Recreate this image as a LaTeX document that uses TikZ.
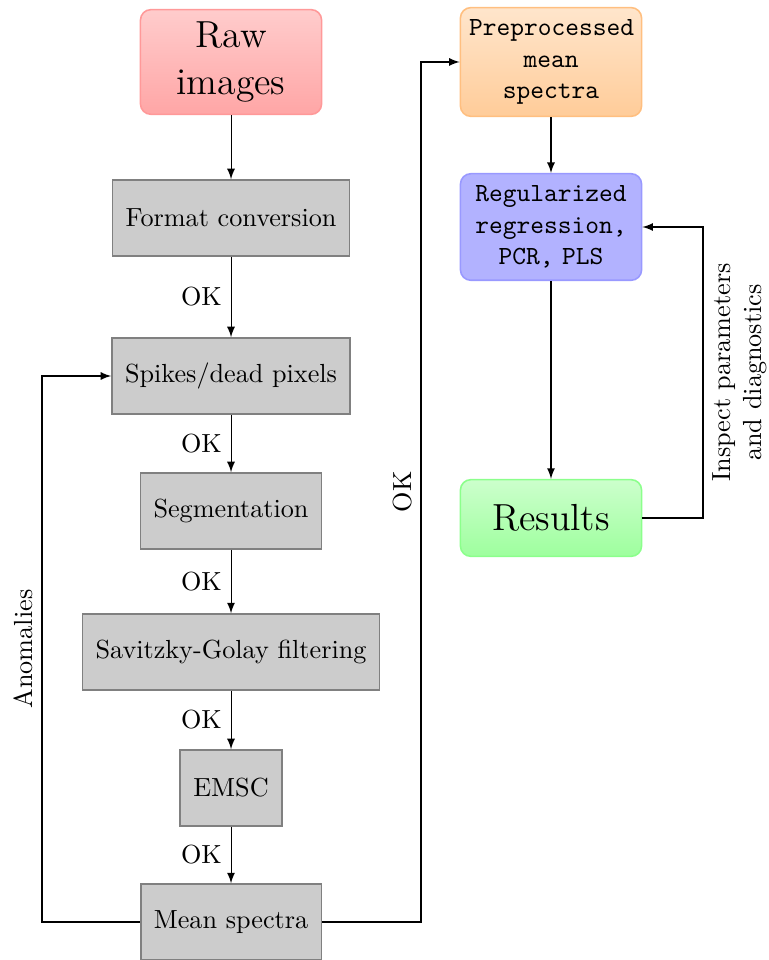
\documentclass[tikz,border=0pt]{standalone}
\usepackage{tikz}
\begin{document}
\begin{tikzpicture}[
  procbox/.style={draw=black!50,fill=black!20,semithick,rectangle,inner xsep=5pt,minimum height=1.02cm},
  endbox/.style={semithick,rounded corners,align=center,text width=2.2cm,inner xsep=3.3pt,inner ysep=4.6pt},
  flow/.style={->,>=latex}
]
\useasboundingbox (0,0) rectangle (10.31,-12.886);
\node[endbox,draw=red!40,top color=red!20,bottom color=red!35,font=\Large] (raw) at (3.101,-0.832) {Raw\\images};
\node[procbox] (conv) at (3.101,-2.926) {Format conversion};
\node[procbox] (spikes) at (3.101,-5.047) {Spikes/dead pixels};
\node[procbox] (seg) at (3.101,-6.859) {Segmentation};
\node[procbox] (sgf) at (3.101,-8.752) {Savitzky-Golay filtering};
\node[procbox] (emsc) at (3.101,-10.577) {EMSC};
\node[procbox] (mean) at (3.101,-12.376) {Mean spectra};
\node[endbox,draw=orange!50,top color=orange!20,bottom color=orange!40,font=\ttfamily] (prep) at (7.396,-0.832) {Preprocessed\\mean\\spectra};
\node[endbox,draw=blue!40,fill=blue!30,font=\ttfamily] (reg) at (7.396,-3.047) {Regularized\\regression,\\PCR, PLS};
\node[endbox,draw=green!45,top color=green!20,bottom color=green!38,font=\Large,minimum height=1.03cm] (res) at (7.396,-6.953) {Results};
\coordinate (lft) at (0.564,-12.376);
\coordinate (rgt) at (5.651,-12.376);
\coordinate (back) at (9.436,-6.953);
\draw[flow] (raw) -- (conv);
\draw[flow] (conv) -- node[left] {OK} (spikes);
\draw[flow] (spikes) -- node[left] {OK} (seg);
\draw[flow] (seg) -- node[left] {OK} (sgf);
\draw[flow] (sgf) -- node[left] {OK} (emsc);
\draw[flow] (emsc) -- node[left] {OK} (mean);
\draw[flow] (mean.west) -- (lft) |- node[pos=0.25,above,rotate=90] {Anomalies} (spikes.west);
\draw[flow] (mean.east) -- (rgt) |- node[pos=0.25,above,rotate=90] {OK} (prep.west);
\draw[flow] (prep) -- (reg);
\draw[flow] (reg) -- (res);
\draw[flow] (res.east) -- (back) |- node[pos=0.25,below,rotate=90,align=center] {Inspect parameters\\and diagnostics} (reg.east);
\end{tikzpicture}
\end{document}
